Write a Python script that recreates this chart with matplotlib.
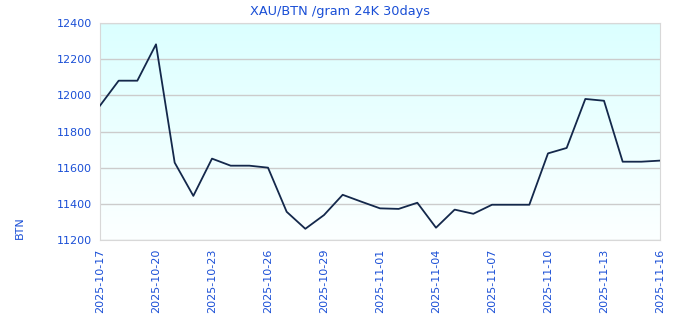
import numpy as np
import pandas as pd
import matplotlib
matplotlib.use('Agg')
import matplotlib.pyplot as plt
import matplotlib.dates as mdates

# daily XAU price in BTN per gram
dates = pd.date_range('2025-10-17', '2025-11-16', freq='D')
prices = [11943, 12081, 12081, 12282, 11628, 11444, 11650, 11611, 11611, 11600,
          11356, 11262, 11338, 11450, 11412, 11375, 11372, 11406, 11268, 11368,
          11345, 11395, 11395, 11395, 11679, 11709, 11980, 11970, 11633, 11633,
          11639]
tick_dates = dates[::3]
title = 'XAU/BTN /gram 24K 30days'
ylabel = 'BTN'

txt = '#1a4fd6'
line_col = '#14284b'
grid_col = '#cccccc'

fig = plt.figure(figsize=(6.8, 3.2), dpi=100)
ax = fig.add_axes([100 / 680, 1 - 240 / 320, 560 / 680, 217 / 320])

# vertical gradient background: light cyan at top fading to white
grad = np.linspace(0, 1, 256).reshape(-1, 1)
top = np.array([0.86, 1.0, 1.0])
bot = np.array([0.99, 1.0, 1.0])
img = top * (1 - grad[..., None]) + bot * grad[..., None]
img = img.reshape(256, 1, 3)
ax.imshow(img, extent=[0, 1, 0, 1], transform=ax.transAxes,
          aspect='auto', zorder=0)

ax.plot(dates, prices, color=line_col, lw=1.3, zorder=3)

ax.set_xlim(dates[0], dates[-1])
ax.set_ylim(11200, 12400)
ax.set_yticks(np.arange(11200, 12401, 200))
ax.set_xticks(tick_dates)
ax.xaxis.set_major_formatter(mdates.DateFormatter('%Y-%m-%d'))
ax.tick_params(axis='x', rotation=90)
ax.tick_params(length=0, labelsize=8, colors=txt, pad=6)
ax.grid(axis='y', color=grid_col, lw=1, zorder=1)
for s in ax.spines.values():
  s.set_color('#d8d8d8')

# the unit label sits low on the left, not centred
ax.set_ylabel(ylabel, color=txt, fontsize=8)
ax.yaxis.set_label_coords(-75 / 560, 12 / 217)
fig.text(0.5, 1 - 11 / 320, title, ha='center', va='center',
         color=txt, fontsize=9.3)

fig.savefig('out.png', dpi=100)
